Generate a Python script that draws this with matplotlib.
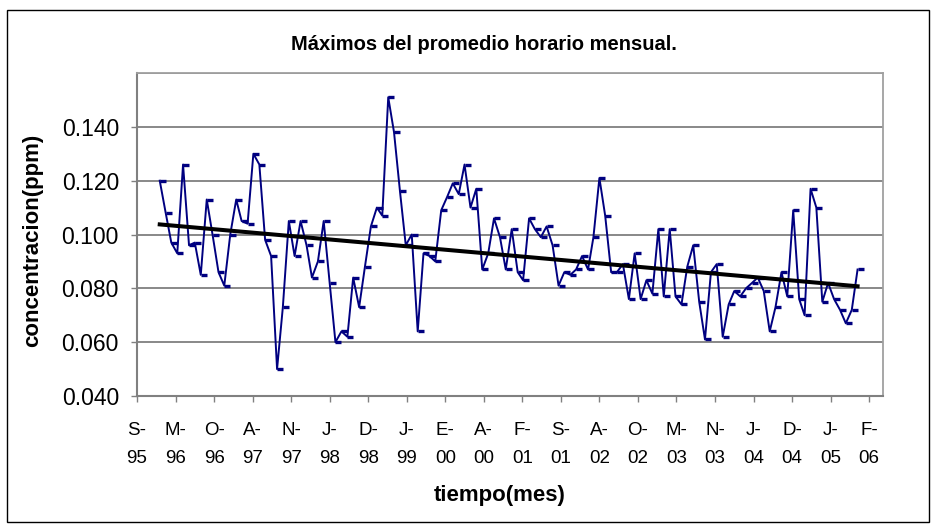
import datetime as dt
import numpy as np
import matplotlib
matplotlib.use("Agg")
import matplotlib.pyplot as plt
import matplotlib.dates as mdates
from matplotlib.path import Path
from matplotlib.patches import Rectangle

# monthly maxima of the hourly average (ppm), Jan 1996 - Dec 2005
concentracion = [
    0.120, 0.108, 0.097, 0.093, 0.126, 0.096, 0.097, 0.085, 0.113, 0.100, 0.086, 0.081,
    0.100, 0.113, 0.105, 0.104, 0.130, 0.126, 0.098, 0.092, 0.050, 0.073, 0.105, 0.092,
    0.105, 0.096, 0.084, 0.090, 0.105, 0.082, 0.060, 0.064, 0.062, 0.084, 0.073, 0.088,
    0.103, 0.110, 0.107, 0.151, 0.138, 0.116, 0.096, 0.100, 0.064, 0.093, 0.092, 0.090,
    0.109, 0.114, 0.119, 0.115, 0.126, 0.110, 0.117, 0.087, 0.093, 0.106, 0.099, 0.087,
    0.102, 0.086, 0.083, 0.106, 0.102, 0.099, 0.103, 0.096, 0.081, 0.086, 0.085, 0.087,
    0.092, 0.087, 0.099, 0.121, 0.107, 0.086, 0.086, 0.089, 0.076, 0.093, 0.076, 0.083,
    0.078, 0.102, 0.077, 0.102, 0.077, 0.074, 0.088, 0.096, 0.075, 0.061, 0.086, 0.089,
    0.062, 0.074, 0.079, 0.077, 0.080, 0.082, 0.084, 0.079, 0.064, 0.073, 0.086, 0.077,
    0.109, 0.076, 0.070, 0.117, 0.110, 0.075, 0.082, 0.076, 0.072, 0.067, 0.072, 0.087,
]
first_year, first_month = 1996, 1

tick_labels = ["S-\n95", "M-\n96", "O-\n96", "A-\n97", "N-\n97", "J-\n98", "D-\n98",
               "J-\n99", "E-\n00", "A-\n00", "F-\n01", "S-\n01", "A-\n02", "O-\n02",
               "M-\n03", "N-\n03", "J-\n04", "D-\n04", "J-\n05", "F-\n06"]
tick_start = dt.date(1995, 9, 5)
tick_step_days = 200
y_ticks = [0.040, 0.060, 0.080, 0.100, 0.120, 0.140]

fechas = []
for k in range(len(concentracion)):
    m = first_month - 1 + k
    fechas.append(dt.date(first_year + m // 12, m % 12 + 1, 1))
x = mdates.date2num(fechas)
y = np.array(concentracion)

tick_dates = [tick_start + dt.timedelta(days=tick_step_days * k) for k in range(len(tick_labels))]
tick_x = mdates.date2num(tick_dates)

plt.rcParams["font.family"] = ["Liberation Sans", "DejaVu Sans"]

fig = plt.figure(figsize=(9.37, 5.24), dpi=100)
fig.patches.append(Rectangle((7 / 937, 2 / 524), 922 / 937, 512 / 524, transform=fig.transFigure,
                             fill=False, edgecolor="black", linewidth=1.0))

ax = fig.add_axes([137 / 937, 1 - 396 / 524, 746 / 937, 323 / 524])

# line with dash markers
dash = Path([(0, 0), (1, 0)], [Path.MOVETO, Path.LINETO])
ax.plot(x, y, color="#000080", linewidth=1.4, marker=dash, markersize=9,
        markeredgewidth=2.4, markeredgecolor="#000080", zorder=3)

# linear trend
coef = np.polyfit(x, y, 1)
ax.plot([x[0], x[-1]], np.polyval(coef, [x[0], x[-1]]), color="black", linewidth=2.9, zorder=4)

ax.set_xlim(tick_x[0], tick_x[0] + 3872)
ax.set_ylim(0.040, 0.160)
ax.set_xticks(tick_x)
ax.set_xticklabels(tick_labels, fontsize=13.5, linespacing=1.8)
ax.set_yticks(y_ticks)
ax.set_yticklabels([f"{v:.3f}" for v in y_ticks], fontsize=16.5)
ax.tick_params(axis="x", length=4, width=1, color="#808080", pad=15)
ax.tick_params(axis="y", length=4, width=1, color="#808080", pad=9)

for v in y_ticks[1:] + [0.160]:
    ax.axhline(v, color="#7f7f7f", linewidth=1.3, zorder=1)
for side in ["left", "bottom"]:
    ax.spines[side].set_color("#808080")
    ax.spines[side].set_linewidth(1.5)
for side in ["top", "right"]:
    ax.spines[side].set_color("#a0a0a0")
    ax.spines[side].set_linewidth(1.3)

fig.text(484 / 937, 1 - 45 / 524, "Máximos del promedio horario mensual.",
         ha="center", va="center", fontsize=14.5, fontweight="bold")
fig.text(33 / 937, 1 - 240 / 524, "concentracion(ppm)", rotation=90,
         ha="center", va="center", fontsize=16, fontweight="bold")
fig.text(500 / 937, 1 - 495 / 524, "tiempo(mes)",
         ha="center", va="center", fontsize=16, fontweight="bold")

fig.savefig("out.png", dpi=100)
